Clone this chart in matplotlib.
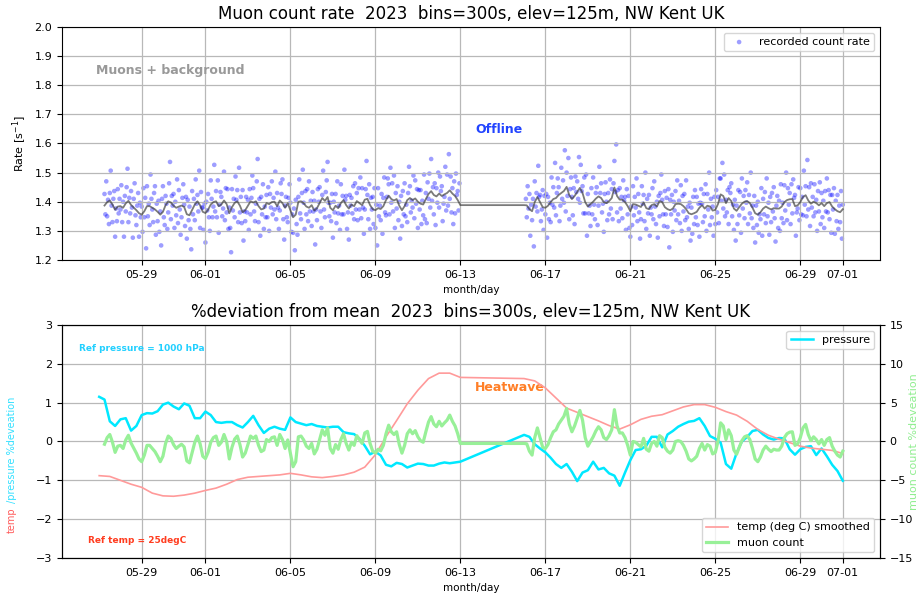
import matplotlib
matplotlib.use("Agg")
import matplotlib.pyplot as plt
import matplotlib.dates as mdates
import numpy as np
import pandas as pd

# muon counts per 300 s bin, one reading per hour, one row per day
# run 1: 2023-05-27 06:00 .. 2023-06-12 23:00
counts_a = [
    428, 407, 441, 405, 422, 397, 429, 452, 416, 399, 423, 431, 384, 413, 400, 433, 408, 423,
    412, 437, 399, 420, 384, 426, 410, 435, 454, 399, 424, 408, 431, 414, 383, 423, 439, 406, 396, 416, 429, 384, 419, 404,
    415, 389, 434, 404, 424, 372, 436, 405, 418, 396, 448, 423, 412, 399, 429, 436, 386, 418, 400, 421, 389, 410, 375, 423,
    436, 404, 396, 426, 418, 392, 409, 439, 461, 402, 426, 416, 428, 393, 420, 406, 443, 398, 432, 412, 386, 404, 424, 438,
    417, 395, 425, 382, 422, 401, 415, 392, 371, 431, 407, 423, 401, 443, 418, 427, 410, 452, 393, 430, 414, 414, 391, 418,
    378, 420, 411, 428, 404, 390, 442, 423, 404, 415, 458, 410, 431, 404, 442, 388, 417, 430, 425, 405, 413, 451, 401, 434,
    409, 433, 392, 414, 393, 368, 433, 411, 423, 404, 446, 422, 432, 399, 455, 409, 425, 398, 432, 380, 410, 400, 425, 409,
    422, 391, 433, 407, 424, 447, 434, 410, 400, 418, 441, 464, 399, 423, 385, 425, 407, 438, 392, 415, 404, 427, 404, 435,
    390, 428, 414, 441, 407, 424, 412, 451, 402, 429, 414, 392, 411, 439, 428, 443, 402, 381, 416, 425, 404, 399, 424, 438,
    419, 389, 407, 388, 413, 370, 422, 397, 386, 425, 443, 408, 402, 429, 453, 419, 392, 431, 407, 433, 400, 441, 410, 421,
    395, 430, 410, 421, 376, 412, 401, 433, 420, 435, 410, 393, 427, 452, 412, 404, 430, 442, 461, 419, 405, 419, 400, 428,
    383, 420, 409, 428, 398, 441, 408, 416, 391, 438, 407, 426, 407, 453, 422, 426, 392, 409, 381, 427, 416, 424, 408, 436,
    402, 439, 412, 429, 401, 434, 412, 445, 403, 434, 414, 387, 412, 433, 462, 427, 402, 438, 392, 424, 412, 425, 397, 434,
    393, 417, 375, 434, 405, 416, 401, 428, 387, 424, 445, 409, 406, 425, 444, 438, 407, 455, 419, 439, 410, 447, 393, 429,
    413, 436, 401, 420, 382, 426, 395, 431, 407, 439, 405, 417, 399, 429, 456, 436, 409, 421, 414, 447, 403, 442, 418, 433,
    393, 432, 412, 432, 397, 421, 406, 448, 402, 429, 398, 440, 423, 449, 414, 464, 421, 435, 407, 439, 396, 434, 419, 450,
    414, 446, 431, 436, 400, 418, 425, 456, 411, 448, 416, 469, 423, 446, 409, 434, 397, 441, 408, 449, 427, 431, 411, 439,
]
# run 2: 2023-06-16 02:00 .. 2023-07-01 00:00
counts_b = [
    423, 404, 436, 413, 428, 385, 417, 401, 423, 374, 441, 415, 429, 410, 457, 425, 427, 400, 412, 432, 391, 426,
    407, 428, 383, 425, 402, 419, 399, 445, 417, 435, 414, 460, 406, 429, 444, 435, 400, 416, 455, 423, 442, 419, 473, 410,
    450, 426, 465, 402, 433, 445, 425, 406, 434, 397, 446, 430, 441, 423, 466, 419, 458, 431, 436, 408, 445, 408, 448, 385,
    428, 408, 416, 395, 434, 407, 445, 417, 402, 429, 435, 396, 416, 456, 429, 439, 409, 418, 389, 428, 440, 420, 401, 429,
    407, 443, 413, 433, 402, 439, 462, 430, 479, 409, 432, 400, 434, 413, 425, 403, 442, 421, 425, 391, 433, 407, 426, 393,
    384, 415, 396, 436, 406, 425, 414, 444, 400, 428, 409, 382, 402, 436, 418, 427, 400, 450, 392, 423, 408, 427, 385, 414,
    407, 434, 402, 441, 415, 397, 420, 383, 426, 405, 429, 448, 422, 407, 395, 431, 407, 424, 394, 433, 373, 422, 407, 427,
    389, 420, 411, 431, 401, 442, 407, 421, 398, 437, 390, 426, 410, 428, 401, 442, 404, 415, 392, 419, 380, 414, 387, 425,
    397, 432, 404, 425, 396, 418, 384, 419, 433, 418, 399, 428, 405, 438, 390, 428, 412, 450, 396, 423, 404, 415, 385, 425,
    397, 432, 409, 425, 398, 444, 444, 421, 460, 413, 448, 405, 422, 409, 432, 397, 435, 429, 439, 405, 417, 391, 422, 380,
    416, 397, 432, 406, 430, 388, 444, 413, 426, 403, 432, 419, 440, 397, 427, 408, 450, 403, 416, 393, 426, 378, 416, 396,
    420, 388, 407, 402, 434, 385, 423, 407, 430, 398, 444, 405, 419, 386, 425, 399, 429, 410, 435, 403, 379, 416, 426, 393,
    421, 390, 438, 403, 419, 398, 437, 411, 450, 401, 434, 417, 429, 397, 438, 408, 443, 424, 427, 385, 409, 413, 435, 401,
    434, 407, 425, 406, 452, 417, 436, 405, 463, 412, 435, 395, 439, 414, 425, 405, 438, 409, 422, 390, 431, 410, 440, 397,
    429, 404, 421, 393, 431, 410, 444, 409, 432, 402, 427, 388, 427, 412, 434, 387, 421, 400, 427, 392, 416, 399, 431, 382,
    417,
]

# smoothed muon count, % deviation from mean, every 3 h
muon_dev_a = [
    -0.35, 0.5, 0.9, -0.1, -1.4, -0.6, -0.5, -0.9, 0.2, 0.8,
    -0.2, -0.85, -1.5, -2.25, -2.6, -1.75, -0.5, -0.5, -0.9, -1.3,
    -1.9, -2.6, -1.9, -0.25, 0.7, 0.4, -0.4, -0.9, -0.6, -0.35,
    -0.7, -2.5, -2.75, -1.4, -0.1, 0.7, -0.3, -1.9, -2.2, -1.4,
    -0.1, 0.5, 0.7, -0.5, -0.1, 0.9, 0.0, -2.25, -0.75, 0.3,
    0.7, -0.4, -2.0, -1.5, -0.4, 0.7, 0.4, 0.7, -0.5, -1.3,
    -1.1, 0.25, 0.0, 0.5, 0.6, -0.5, 0.9, 0.25, -0.9, 0.2,
    -1.5, -3.25, -2.6, 0.6, 0.7, 0.2, -0.6, -0.9, -0.25, -1.6,
    -1.0, 0.25, 1.5, 0.8, 1.75, -0.9, -1.5, -0.4, -1.0, 0.25,
    1.0, -0.25, -1.1, -0.1, -0.5, 0.75, 0.25, -0.25, 1.1, 1.3,
    -0.25, -1.25, -1.5, -1.0, -1.2, -0.5, 1.0, 2.1, 1.25, 0.9,
    1.25, -0.4, -1.5, -0.5, 1.0, 1.5, 1.0, 1.4, 0.6, 0.1,
    -0.1, 1.25, 2.5, 3.2, 2.25, 1.9, 2.6, 2.0, 2.4, 2.75,
    3.4, 2.6, 2.0, 1.0, -0.25,
]
muon_dev_b = [
    -0.25, -0.3,
    -1.25, -1.75, 0.5, 1.75, 0.5, -0.75, -0.9, -0.4, 0.5, 1.25,
    1.5, 2.25, 2.75, 3.25, 4.25, 2.25, 1.25, 2.0, 3.0, 4.0,
    2.75, 0.5, -0.6, 0.0, 0.6, 1.35, 1.9, 1.5, 0.5, 0.25,
    0.75, 1.5, 4.1, 2.0, 1.1, 1.1, 0.5, -0.5, -1.75, 0.0,
    -0.1, -0.4, -0.7, 0.4, -1.0, -1.25, -0.25, 0.0, -0.6, 0.75,
    0.5, -0.75, -1.25, -1.5, -1.1, 0.0, 0.1, 0.0, -0.5, -1.25,
    -2.25, -2.5, -2.25, -1.9, -0.9, -0.25, -1.1, -0.4, -0.6, -1.6,
    -1.4, 0.0, 2.4, 2.0, 0.25, 1.5, 0.75, -1.1, -1.65, -0.75,
    0.1, 0.6, 0.75, 0.25, -0.9, -2.25, -2.6, -2.0, -1.1, -0.6,
    -1.0, -1.3, -1.0, -1.1, -1.1, -0.6, 0.5, 1.0, 1.2, 1.25,
    -0.5, -0.3, 0.5, 1.75, 2.2, 0.9, 0.1, 0.6, 0.25, -0.3,
    0.25, -0.5, 0.25, 0.5, -0.6, -1.25, -1.75, -2.0, -1.25,
]

# pressure, % deviation from 1000 hPa, every 6 h
pressure_dev_a = [
    1.15, 1.08, 0.52, 0.40, 0.57, 0.60, 0.28, 0.40, 0.68, 0.73,
    0.72, 0.78, 0.95, 1.00, 0.90, 0.83, 0.98, 0.92, 0.60, 0.60,
    0.77, 0.68, 0.50, 0.48, 0.50, 0.50, 0.42, 0.36, 0.50, 0.66,
    0.42, 0.22, 0.33, 0.38, 0.33, 0.30, 0.62, 0.50, 0.46, 0.42,
    0.45, 0.40, 0.38, 0.36, 0.38, 0.38, 0.24, 0.21, 0.19, 0.07,
    -0.11, -0.33, -0.26, -0.36, -0.60, -0.64, -0.55, -0.58, -0.67, -0.62,
    -0.57, -0.58, -0.62, -0.62, -0.57, -0.54, -0.56, -0.54, -0.52,
]
pressure_dev_b = [
    0.17, 0.12, -0.07, -0.18, -0.28, -0.42, -0.58, -0.68, -0.58, -0.78,
    -1.02, -0.80, -0.74, -0.52, -0.72, -0.68, -0.82, -0.88, -1.14, -0.80,
    -0.48, -0.22, -0.20, -0.11, 0.12, 0.12, -0.15, 0.18, 0.27, 0.38,
    0.45, 0.51, 0.53, 0.60, 0.40, 0.14, 0.07, -0.03, -0.58, -0.70,
    -0.30, 0.00, 0.12, 0.27, 0.30, 0.18, 0.09, 0.05, 0.09, 0.08,
    -0.20, -0.34, -0.20, -0.14, -0.12, -0.35, -0.18, -0.38, -0.60, -0.76,
    -1.01,
]

# smoothed temperature, % deviation from 25 degC, every 12 h
temp_dev_a = [
    -4.4, -4.5, -5.0, -5.5, -5.9, -6.65, -7.0, -7.05, -6.9, -6.65,
    -6.3, -6.0, -5.5, -4.9, -4.6, -4.5, -4.4, -4.3, -4.1, -4.3,
    -4.55, -4.65, -4.5, -4.3, -3.95, -3.3, -1.7, 0.6, 2.7, 4.85,
    6.6, 8.1, 8.8, 8.8, 8.25,
]
temp_dev_b = [
    8.1, 7.8, 6.9, 5.6, 4.3, 3.75, 3.2, 2.65, 2.05, 1.6,
    2.15, 2.85, 3.25, 3.45, 3.95, 4.45, 4.75, 4.75, 4.4, 3.85,
    3.4, 2.6, 1.55, 0.8, 0.3, -0.15, -0.6, -0.85, -1.0, -1.15,
    -1.55,
]

bin_seconds = 300

t_counts = pd.date_range("2023-05-27 06:00", periods=len(counts_a), freq="h").append(
    pd.date_range("2023-06-16 02:00", periods=len(counts_b), freq="h"))
rate = np.array(counts_a + counts_b) / bin_seconds

t_muon = pd.date_range("2023-05-27 06:00", periods=len(muon_dev_a), freq="3h").append(
    pd.date_range("2023-06-16 00:00", periods=len(muon_dev_b), freq="3h"))
muon_dev = np.array(muon_dev_a + muon_dev_b)
rate_smooth = rate.mean() * (1 + muon_dev / 100)

t_press = pd.date_range("2023-05-27 00:00", periods=len(pressure_dev_a), freq="6h").append(
    pd.date_range("2023-06-16 00:00", periods=len(pressure_dev_b), freq="6h"))
pressure_dev = pressure_dev_a + pressure_dev_b

t_temp = pd.date_range("2023-05-27 00:00", periods=len(temp_dev_a), freq="12h").append(
    pd.date_range("2023-06-16 00:00", periods=len(temp_dev_b), freq="12h"))
temp_dev = temp_dev_a + temp_dev_b

xmin = pd.Timestamp("2023-05-25 06:00")
xmax = pd.Timestamp("2023-07-02 18:00")
day_ticks = mdates.DayLocator(bymonthday=[1, 5, 9, 13, 17, 21, 25, 29])

fig = plt.figure(figsize=(9.2, 5.94), dpi=100)
ax1 = fig.add_axes([0.0674, 0.5623, 0.8891, 0.3923])
ax = fig.add_axes([0.0674, 0.0606, 0.8891, 0.3923])
ax2 = ax.twinx()

# --- count rate ---
ax1.scatter(t_counts, rate, s=11, color="blue", alpha=0.38, edgecolors="none",
            label="recorded count rate")
ax1.plot(t_muon, rate_smooth, color="0.2", alpha=0.65, lw=1.3)
ax1.set_ylim(1.2, 2.0)
ax1.set_yticks(np.arange(1.2, 2.01, 0.1))
ax1.set_xlim(xmin, xmax)
ax1.xaxis.set_major_locator(day_ticks)
ax1.xaxis.set_major_formatter(mdates.DateFormatter("%m-%d"))
ax1.tick_params(labelsize=8)
ax1.grid(True, color="#b8b8b8", lw=0.9)
ax1.set_ylabel("Rate [s$^{-1}$]", fontsize=8)
ax1.set_xlabel("month/day", fontsize=7.5)
ax1.set_title("Muon count rate  2023  bins=300s, elev=125m, NW Kent UK", fontsize=12)
ax1.legend(loc="upper right", fontsize=8)
ax1.text(0.042, 0.815, "Muons + background", transform=ax1.transAxes, color="#999999",
         fontsize=9, fontweight="bold", va="center")
ax1.text(0.505, 0.558, "Offline", transform=ax1.transAxes, color="#2244ff",
         fontsize=9, fontweight="bold", va="center")

# --- % deviation ---
ax.plot(t_press, pressure_dev, color="#00e8ff", lw=1.8, label="pressure")
ax2.plot(t_temp, temp_dev, color="#ff9a9a", lw=1.2, label="temp (deg C) smoothed")
ax2.plot(t_muon, muon_dev, color="#98f098", lw=2.3, label="muon count")
ax.set_ylim(-3, 3)
ax2.set_ylim(-15, 15)
ax.set_xlim(xmin, xmax)
ax.xaxis.set_major_locator(day_ticks)
ax.xaxis.set_major_formatter(mdates.DateFormatter("%m-%d"))
ax.tick_params(labelsize=8)
ax2.tick_params(labelsize=8)
ax.grid(True, color="#b8b8b8", lw=0.9)
ax.set_xlabel("month/day", fontsize=7.5)
ax.set_title("%deviation from mean  2023  bins=300s, elev=125m, NW Kent UK", fontsize=12)
ax2.set_ylabel("muon count %deveation", color="#90ee90", fontsize=8)
ax2.yaxis.set_label_coords(1.036, 0.5)
ax.legend(loc="upper right", fontsize=8)
ax2.legend(loc="lower right", fontsize=8)

fig.text(0.013, 0.103, "temp", rotation=90, color="#ff5a5a", fontsize=7,
         ha="center", va="bottom")
fig.text(0.013, 0.153, "/pressure %deveation", rotation=90, color="#33e0ff", fontsize=7,
         ha="center", va="bottom")

ax.text(0.021, 0.897, "Ref pressure = 1000 hPa", transform=ax.transAxes, color="#22d0ff",
        fontsize=6.5, fontweight="bold", va="center")
ax.text(0.032, 0.077, "Ref temp = 25degC", transform=ax.transAxes, color="#ff3c1f",
        fontsize=6.5, fontweight="bold", va="center")
ax.text(0.505, 0.73, "Heatwave", transform=ax.transAxes, color="#ff7f27",
        fontsize=9, fontweight="bold", va="center")

fig.savefig("out.png", dpi=100)
